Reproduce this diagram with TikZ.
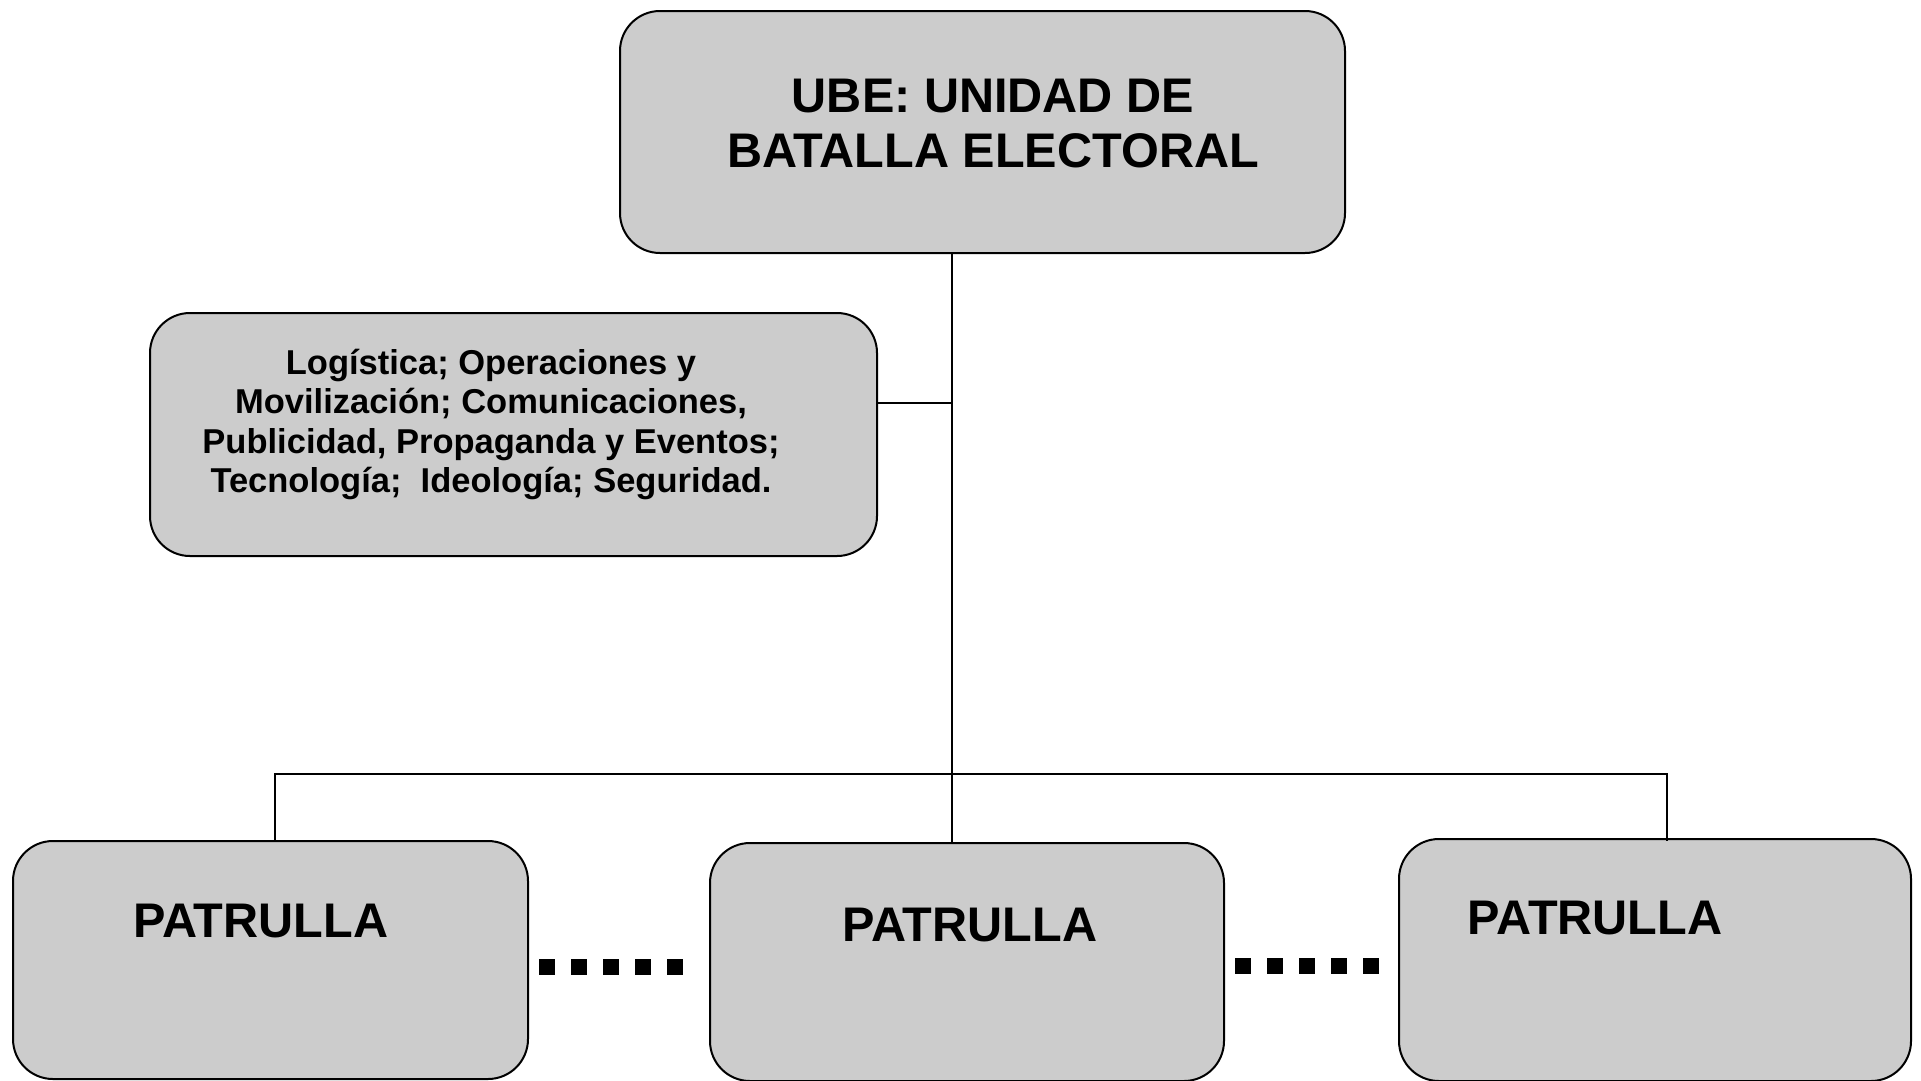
\documentclass[tikz,border=0pt]{standalone}
\usepackage{fontspec}
\setmainfont{Liberation Sans}
\definecolor{boxgray}{HTML}{CCCCCC}
\begin{document}
\begin{tikzpicture}[x=1pt,y=-1pt,
  box/.style={draw=black,line width=2pt,fill=boxgray,rounded corners=40pt,inner sep=0pt,anchor=north west},
  bigtxt/.style={font=\fontsize{48.6}{55}\selectfont\bfseries,align=center,inner sep=0pt},
  smalltxt/.style={font=\fontsize{34.5}{39.6}\selectfont\bfseries,align=center,inner sep=0pt},
  conn/.style={draw=black,line width=1.5pt},
  dots/.style={draw=black,line width=16pt,dash pattern=on 16pt off 16pt,line cap=butt}]
\useasboundingbox (0,0) rectangle (1921,1080);
% boxes
\node[box,minimum width=725pt,minimum height=242pt] (ube) at (619,10) {};
\node[box,minimum width=727pt,minimum height=243pt] (areas) at (149,312) {};
\node[box,minimum width=515pt,minimum height=238pt] (p1) at (12,840) {};
\node[box,minimum width=514pt,minimum height=238pt] (p2) at (709,842) {};
\node[box,minimum width=512pt,minimum height=242pt] (p3) at (1398,838) {};
% texts
\node[bigtxt] (ubetxt) at (993,123.3) {UBE: UNIDAD DE\\BATALLA ELECTORAL};
\node[smalltxt] (areastxt) at (491,424.5) {Logística; Operaciones y\\Movilización; Comunicaciones,\\Publicidad, Propaganda y Eventos;\\Tecnología;\ \ Ideología; Seguridad.};
\node[bigtxt,anchor=base] (p1txt) at (261,937) {PATRULLA};
\node[bigtxt,anchor=base] (p2txt) at (970,941) {PATRULLA};
\node[bigtxt,anchor=base] (p3txt) at (1595,934) {PATRULLA};
% connector coordinates
\coordinate (trunk) at (952,0);
\coordinate (branch) at (0,403);
\coordinate (bus) at (0,774);
\coordinate (dropL) at (275,0);
\coordinate (dropR) at (1667,0);
\draw[conn] (ube.south -| trunk) -- (p2.north -| trunk);
\draw[conn] (areas.east |- branch) -- (trunk |- branch);
\draw[conn] (p1.north -| dropL) -- (dropL |- bus) -- (dropR |- bus) -- ([yshift=-3pt]p3.north -| dropR);
% dotted separators
\coordinate (d1a) at (539,967);
\coordinate (d1b) at (683,967);
\coordinate (d2a) at (1235,966);
\coordinate (d2b) at (1379,966);
\draw[dots] (d1a) -- (d1b);
\draw[dots] (d2a) -- (d2b);
\end{tikzpicture}
\end{document}
